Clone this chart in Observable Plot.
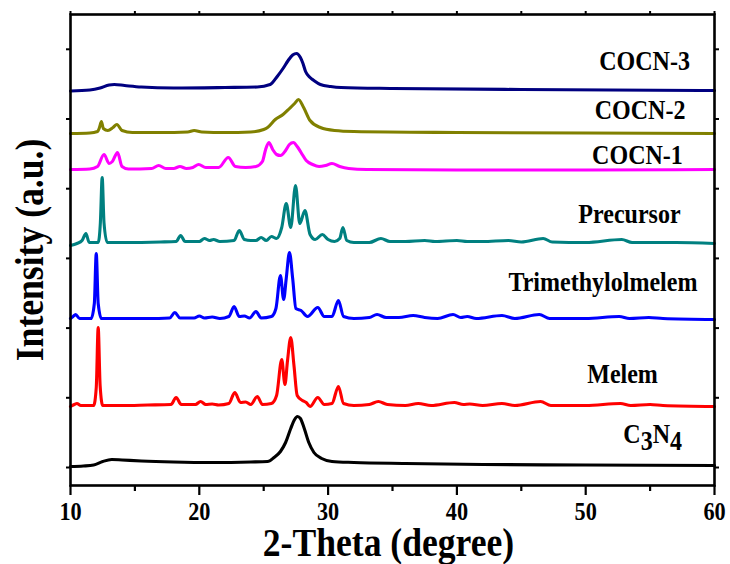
<!DOCTYPE html>
<html>
<head>
<meta charset="utf-8">
<script src="https://cdn.jsdelivr.net/npm/d3@7"></script>
<script src="https://cdn.jsdelivr.net/npm/@observablehq/plot@0.6"></script>
<style>
  html, body { margin: 0; padding: 0; background: #fff; }
  #chart svg { display: block; }
</style>
</head>
<body>
<div id="chart"></div>
<script>
// XRD patterns, [2θ (degree), intensity above the pattern's own baseline (a.u.)]
const c3n4 = [[10,0],[11,0.5],[11.8,1.5],[12.5,5],[13.2,7],[14,6.5],[15.5,5.5],[18,4.5],[21,4],[24,4.5],[25.3,5],[25.8,9],[26.3,15],[26.7,24],[27.1,38],[27.4,47],[27.62,50],[27.85,48],[28.15,38],[28.5,24],[28.9,14],[29.5,8],[30.3,5],[32,4],[36,3],[42,2],[50,1.5],[60,1]];

const melem = [[10,-1],[10.3,1],[10.5,2],[10.8,0],[11.8,0],[12.0,18],[12.15,78],[12.3,20],[12.5,0],[14,0],[16,0.5],[17.8,1],[18.2,8],[18.6,1],[19.7,1],[20.1,4],[20.5,1],[21.0,1.5],[21.5,0.5],[22.3,2],[22.75,13],[23.2,3],[23.6,3.5],[24.0,1],[24.5,9],[24.9,1],[25.6,2],[26.0,10],[26.4,46],[26.65,21],[26.85,45],[27.1,68],[27.35,40],[27.6,10],[28.0,5],[28.3,3],[28.6,-1],[29.2,8],[29.7,1],[30.3,2],[30.8,19],[31.2,2],[32,0],[33.2,1],[33.9,4],[34.6,1],[36,0],[37.0,2],[38,0],[39.8,3],[40.5,1],[41,1.5],[42,0],[43.5,2],[44.5,0],[46.5,4],[47.3,0],[50,0],[52.7,2],[53.5,0],[55,1],[56,0],[60,-1]];

const trimethylolmelem = [[10,0],[10.2,2],[10.4,4],[10.7,0],[11.6,0],[11.85,15],[12.0,65],[12.15,15],[12.4,0],[14,0],[16,0],[17.7,0.5],[18.1,6],[18.5,0.5],[19.6,0.5],[20.0,2.5],[20.4,0.5],[21.0,1.5],[21.6,0],[22.3,2],[22.7,12],[23.1,2],[23.5,2.5],[23.9,0.5],[24.4,7],[24.8,0.5],[25.6,2],[25.95,10],[26.3,43],[26.55,19],[26.75,40],[27.0,66],[27.25,40],[27.5,10],[27.9,8],[28.4,2],[29.2,11],[29.7,2],[30.3,2],[30.8,18],[31.2,2],[32,0],[33.2,1],[33.8,4],[34.5,1],[35.5,1],[36.6,3],[37.5,1],[38.5,0],[39.7,4],[40.3,1],[40.8,2],[41.5,0],[43.5,3],[44.5,0],[46.4,4],[47.2,0],[50,0],[52.6,2],[53.4,0],[54.9,1],[56,0],[60,-1]];

const precursor = [[10,-3],[10.5,-1],[10.9,2],[11.2,9],[11.45,0],[12.15,0],[12.32,20],[12.46,65],[12.6,20],[12.85,0],[14,0],[17,0.5],[18.2,1],[18.55,7],[18.9,1],[20.0,1],[20.4,4],[20.8,2],[21.1,3],[21.6,1],[22.7,2],[23.1,12],[23.5,3],[24.0,2],[24.4,2],[24.8,5],[25.2,2],[25.6,6],[26.0,4],[26.4,15],[26.75,39],[27.1,15],[27.47,57],[27.8,19],[28.2,32],[28.6,8],[29.0,3],[29.55,8],[30.0,3],[30.5,1],[30.9,4],[31.15,15],[31.45,2],[32,0],[33.2,0],[34.1,4],[34.8,1],[36,1],[37.5,2],[38.3,1],[40.0,2],[40.8,1],[42,1],[44,2],[45,0.5],[46.7,4],[47.4,0.5],[50,0],[52.8,3],[53.6,0],[57,0],[60,-1]];

const cocn1 = [[10,0],[11.5,0.5],[12.1,3],[12.6,15],[13.0,6],[13.25,8],[13.65,17],[14.0,3],[14.5,0.5],[16.3,1],[16.85,4],[17.4,1],[18.0,1],[18.5,3],[19.0,1],[19.5,2],[19.95,5],[20.5,2],[21.5,2],[22.25,12],[22.8,3],[23.6,2],[24.4,3],[24.9,8],[25.15,20],[25.4,27],[25.7,20],[26.0,15],[26.3,14],[26.7,19],[27.0,25],[27.3,27],[27.6,23],[27.9,17],[28.3,9],[28.8,5],[29.3,3],[29.8,4],[30.3,6],[30.9,3],[31.6,1],[33,0],[40,-0.5],[50,-0.5],[60,0]];

const cocn2 = [[10,0],[11.5,0.5],[12.1,2],[12.25,6],[12.4,12],[12.55,5],[12.9,3],[13.3,6],[13.6,9],[14.0,3],[14.8,1],[17,1],[19.1,1.5],[19.6,3],[20.2,1.5],[22,1],[24,1.5],[25.0,4],[25.3,6],[25.9,14],[26.5,19],[27.0,25],[27.4,30],[27.7,34],[28.1,26],[28.6,13],[29.4,6],[30.5,3],[32,2],[40,1],[50,0.5],[60,0]];

const cocn3 = [[10,-0.5],[11.5,0.5],[12.3,2.5],[13.0,5.5],[13.4,6],[14.2,5],[15.5,3.5],[18,2.5],[22,3],[24.5,3.5],[25.5,6],[26.05,14],[26.5,22],[26.9,30],[27.25,35.5],[27.55,37],[27.85,33],[28.05,27],[28.25,19],[28.6,13],[28.9,10],[29.4,6],[30.2,4],[31,3],[35,2],[45,1],[60,0]];

// stacking order, baseline offsets, colours and label positions
const names   = ["C3N4", "Melem", "Trimethylolmelem", "Precursor", "COCN-1", "COCN-2", "COCN-3"];
const series  = [c3n4, melem, trimethylolmelem, precursor, cocn1, cocn2, cocn3];
const offsets = [1, 62, 149, 225, 298, 334, 377];
const colors  = ["#000000", "#ff0000", "#0000ff", "#008080", "#ff00ff", "#808000", "#000080"];
const labelTheta = [55.2, 52.86, 51.34, 53.4, 54.02, 54.22, 54.57];
const labelLevel = [25, 85, 177, 245, 304, 349, 398];

const xMajor = [10, 20, 30, 40, 50, 60];
const xMinor = [15, 25, 35, 45, 55];
const yTicks = [0, 69.7, 139.4, 209.1, 278.8, 348.5, 418.2];

const font = "'Liberation Serif', 'Times New Roman', serif";
const condense = 0.89; // narrow bold serif lettering

const rows = series.flatMap((s, i) =>
  s.map(([theta, v]) => ({name: names[i], theta, value: v + offsets[i]}))
);
const labels = names.map((name, i) => ({name, theta: labelTheta[i], level: labelLevel[i]}));

const blank = () => "";

const chart = Plot.plot({
  width: 730,
  height: 564,
  marginLeft: 70,
  marginRight: 16,
  marginTop: 14,
  marginBottom: 79,
  style: {background: "#fff", fontFamily: font},
  x: {domain: [10, 60], axis: null},
  y: {domain: [-18, 453], axis: null},
  color: {domain: names, range: colors},
  marks: [
    Plot.line(rows, {x: "theta", y: "value", z: "name", stroke: "name", strokeWidth: 3.1, curve: "monotone-x"}),
    Plot.frame({stroke: "#000", strokeWidth: 2.6}),
    Plot.axisX({anchor: "bottom", ticks: xMajor, tickSize: 10, tickFormat: blank, label: null, strokeWidth: 2.2}),
    Plot.axisX({anchor: "bottom", ticks: xMinor, tickSize: 6, tickFormat: blank, label: null, strokeWidth: 2.2}),
    Plot.axisX({anchor: "top", ticks: [...xMajor, ...xMinor], tickSize: 4, tickFormat: blank, label: null, strokeWidth: 2}),
    Plot.axisY({anchor: "left", ticks: yTicks, tickSize: 4, tickFormat: blank, label: null, strokeWidth: 2}),
    Plot.axisY({anchor: "right", ticks: yTicks, tickSize: 4, tickFormat: blank, label: null, strokeWidth: 2}),
    Plot.text(xMajor, {x: d => d, frameAnchor: "bottom", dy: 34, lineAnchor: "bottom", textAnchor: "middle",
      text: d => String(d), fontSize: 25, fontWeight: "bold", fill: "#000"}),
    Plot.text(["2-Theta (degree)"], {frameAnchor: "bottom", dx: -4, dy: 70, lineAnchor: "bottom", textAnchor: "middle",
      fontSize: 40, fontWeight: "bold", fill: "#000"}),
    Plot.text(["Intensity (a.u.)"], {frameAnchor: "left", dx: -28, rotate: -90, lineAnchor: "bottom", textAnchor: "middle",
      fontSize: 40, fontWeight: "bold", fill: "#000"}),
    Plot.text(labels, {x: "theta", y: "level", text: "name", textAnchor: "middle", lineAnchor: "bottom",
      fontSize: 27, fontWeight: "bold", fill: "#000"})
  ]
});

// chemical formula with subscripted digits, then narrow every label along its own direction
d3.select(chart).selectAll("text").each(function () {
  if (this.textContent === "C3N4") {
    this.innerHTML = 'C<tspan dy="7">3</tspan><tspan dy="-7">N</tspan><tspan dy="7">4</tspan>';
  }
  if (!this.textContent) return;
  const t = this.getAttribute("transform") || "";
  const x = this.getAttribute("x");
  if (x != null && x !== "") this.setAttribute("x", +x / condense);
  this.setAttribute("transform", `${t} scale(${condense},1)`.trim());
});

document.getElementById("chart").appendChild(chart);
</script>
</body>
</html>
